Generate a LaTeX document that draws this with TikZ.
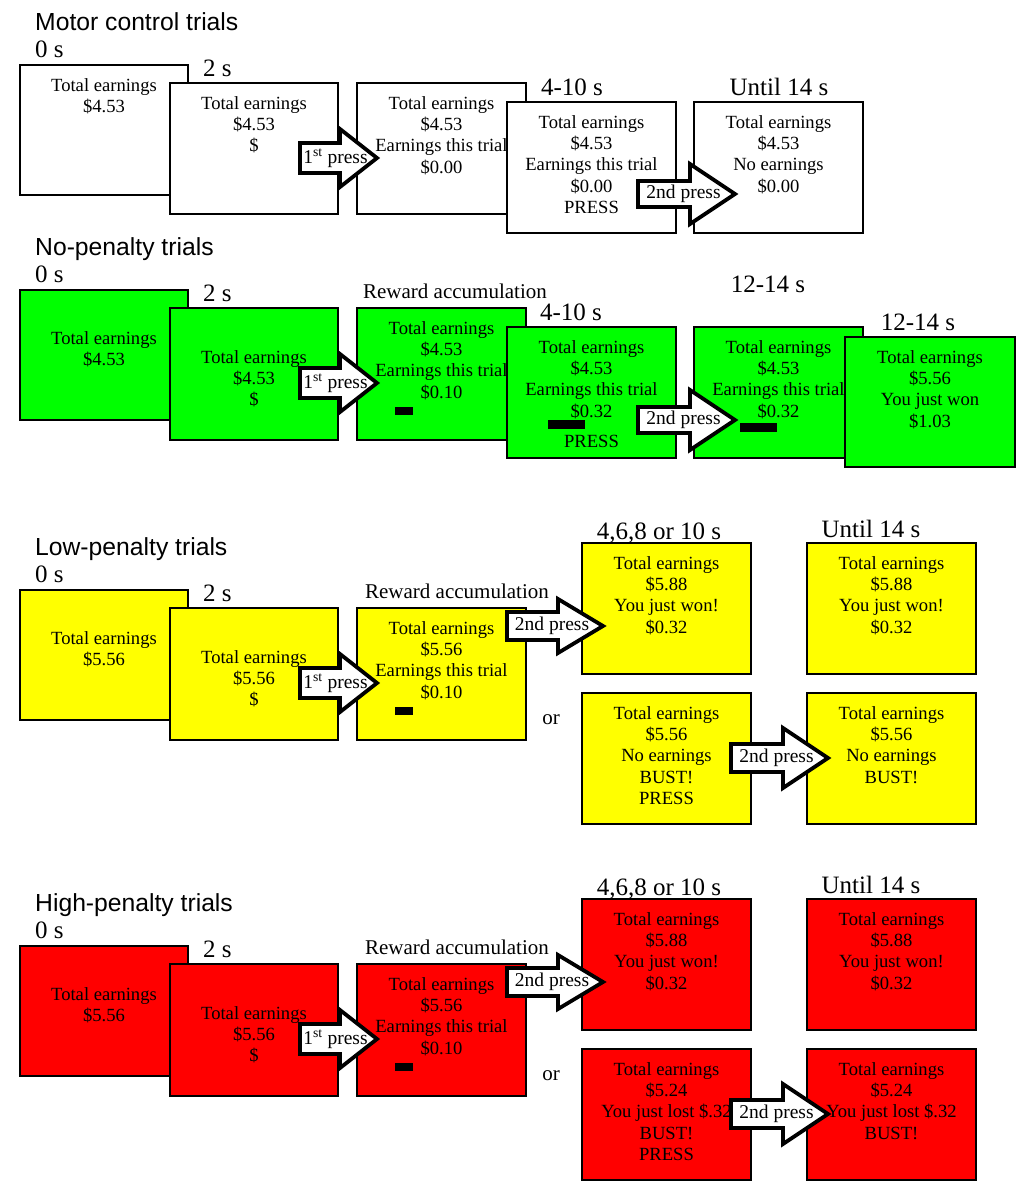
\documentclass[tikz,border=0pt]{standalone}
\usepackage{fontspec}
\setmainfont{Liberation Serif}
\newfontfamily\ttlfont{Liberation Sans}
\definecolor{scrGreen}{RGB}{0,255,0}
\definecolor{scrYellow}{RGB}{255,255,0}
\definecolor{scrRed}{RGB}{255,0,0}
% screen box: name, x1, y1, x2, y2, fill, baseline offset of first line, text
\newcommand\scrbox[8]{%
  \path[scr, fill=#6] (#2,#3) rectangle (#4,#5);
  \coordinate (#1) at ({(#2+#4)/2},{(#3+#5)/2});
  \node[btxt] (#1t) at ({(#2+#4)/2},{#3+#7-14.91}) {\strut #8};}
% block arrow: name, tail x, centre y, length, head length, body half, head half, label
\newcommand\blockarrow[8]{%
  \draw[arr] (#2,#3-#6) -- (#2+#4-#5,#3-#6) -- (#2+#4-#5,#3-#7) -- (#2+#4,#3)
    -- (#2+#4-#5,#3+#7) -- (#2+#4-#5,#3+#6) -- (#2,#3+#6) -- cycle;
  \node[alab] (#1) at (#2+#4/2-3,#3) {#8};}
\begin{document}
\begin{tikzpicture}[x=1pt,y=-1pt,
  scr/.style={draw=black, line width=1.5pt},
  btxt/.style={font=\fontsize{18.6}{21.3}\selectfont, align=center, anchor=north, inner sep=0pt},
  tlab/.style={font=\fontsize{25}{29}\selectfont, anchor=base, inner sep=0pt},
  ralab/.style={font=\fontsize{21}{25}\selectfont, anchor=base, inner sep=0pt},
  ttl/.style={font=\ttlfont\fontsize{24.7}{29}\selectfont, anchor=base west, inner sep=0pt},
  arr/.style={draw=black, fill=white, line width=3.8pt, line join=miter},
  alab/.style={font=\fontsize{19.5}{22}\selectfont, inner sep=0pt},
  bar/.style={fill=black}]
\useasboundingbox[fill=white] (0,0) rectangle (1026,1187);

% ---------------- Motor control trials ----------------
\node[ttl] (tA) at (35,30) {Motor control trials};
\node[tlab, anchor=base west] (A0s) at (35,57) {0 s};
\scrbox{A1}{20}{65}{188}{195}{white}{26}{Total earnings\\\$4.53}
\node[tlab, anchor=base west] (A2s) at (203,76) {2 s};
\scrbox{A2}{170}{83}{338}{214}{white}{26}{Total earnings\\\$4.53\\\$}
\scrbox{A3}{357}{83}{526}{214}{white}{26}{Total earnings\\\$4.53\\Earnings this trial\\\$0.00}
\node[tlab] (A4s) at (572,95) {4-10 s};
\scrbox{A4}{507}{102}{676}{233}{white}{26}{Total earnings\\\$4.53\\Earnings this trial\\\$0.00\\PRESS}
\node[tlab] (A5s) at (779,95) {Until 14 s};
\scrbox{A5}{694}{102}{863}{233}{white}{26}{Total earnings\\\$4.53\\No earnings\\\$0.00}
\blockarrow{aA1}{300}{158}{77}{37}{15}{29}{1\textsuperscript{st} press}
\blockarrow{aA2}{638}{194}{97}{45}{13}{30}{2nd press}

% ---------------- No-penalty trials ----------------
\node[ttl] (tB) at (35,255) {No-penalty trials};
\node[tlab, anchor=base west] (B0s) at (35,282) {0 s};
\scrbox{B1}{20}{290}{188}{420}{scrGreen}{54}{Total earnings\\\$4.53}
\node[tlab, anchor=base west] (B2s) at (203,301) {2 s};
\scrbox{B2}{170}{308}{338}{440}{scrGreen}{55}{Total earnings\\\$4.53\\\$}
\node[ralab] (B3s) at (455,298) {Reward accumulation};
\scrbox{B3}{357}{308}{526}{440}{scrGreen}{26}{Total earnings\\\$4.53\\Earnings this trial\\\$0.10}
\path[bar] (395,407) rectangle (413,415);
\node[tlab] (B4s) at (571,320) {4-10 s};
\scrbox{B4}{507}{327}{676}{458}{scrGreen}{26}{Total earnings\\\$4.53\\Earnings this trial\\\$0.32\\[8.7pt]PRESS}
\path[bar] (548,420) rectangle (585,429);
\node[tlab] (B5s) at (768,292) {12-14 s};
\scrbox{B5}{694}{327}{863}{458}{scrGreen}{26}{Total earnings\\\$4.53\\Earnings this trial\\\$0.32}
\path[bar] (740,423) rectangle (777,432);
\node[tlab] (B6s) at (918,330) {12-14 s};
\scrbox{B6}{845}{337}{1015}{467}{scrGreen}{26}{Total earnings\\\$5.56\\You just won\\\$1.03}
\blockarrow{aB1}{300}{383}{77}{37}{15}{29}{1\textsuperscript{st} press}
\blockarrow{aB2}{638}{420}{97}{45}{13}{30}{2nd press}

% ---------------- Low-penalty trials ----------------
\node[ttl] (tC) at (35,555) {Low-penalty trials};
\node[tlab, anchor=base west] (C0s) at (35,582) {0 s};
\scrbox{C1}{20}{590}{188}{720}{scrYellow}{54}{Total earnings\\\$5.56}
\node[tlab, anchor=base west] (C2s) at (203,601) {2 s};
\scrbox{C2}{170}{608}{338}{740}{scrYellow}{55}{Total earnings\\\$5.56\\\$}
\node[ralab] (C3s) at (457,598) {Reward accumulation};
\scrbox{C3}{357}{608}{526}{740}{scrYellow}{26}{Total earnings\\\$5.56\\Earnings this trial\\\$0.10}
\path[bar] (395,707) rectangle (413,715);
\node[tlab] (C4s) at (659,539) {4,6,8 or 10 s};
\scrbox{C4}{582}{543}{751}{674}{scrYellow}{26}{Total earnings\\\$5.88\\You just won!\\\$0.32}
\node[tlab] (C5s) at (871,537) {Until 14 s};
\scrbox{C5}{807}{543}{976}{674}{scrYellow}{26}{Total earnings\\\$5.88\\You just won!\\\$0.32}
\node[ralab] (Cor) at (551,724) {or};
\scrbox{C6}{582}{693}{751}{824}{scrYellow}{26}{Total earnings\\\$5.56\\No earnings\\BUST!\\PRESS}
\scrbox{C7}{807}{693}{976}{824}{scrYellow}{26}{Total earnings\\\$5.56\\No earnings\\BUST!}
\blockarrow{aC1}{300}{683}{77}{37}{15}{29}{1\textsuperscript{st} press}
\blockarrow{aC2}{507}{626}{96}{45}{14}{27}{2nd press}
\blockarrow{aC3}{731}{758}{97}{45}{14}{30}{2nd press}

% ---------------- High-penalty trials ----------------
\node[ttl] (tD) at (35,911) {High-penalty trials};
\node[tlab, anchor=base west] (D0s) at (35,938) {0 s};
\scrbox{D1}{20}{946}{188}{1076}{scrRed}{54}{Total earnings\\\$5.56}
\node[tlab, anchor=base west] (D2s) at (203,957) {2 s};
\scrbox{D2}{170}{964}{338}{1096}{scrRed}{55}{Total earnings\\\$5.56\\\$}
\node[ralab] (D3s) at (457,954) {Reward accumulation};
\scrbox{D3}{357}{964}{526}{1096}{scrRed}{26}{Total earnings\\\$5.56\\Earnings this trial\\\$0.10}
\path[bar] (395,1063) rectangle (413,1071);
\node[tlab] (D4s) at (659,895) {4,6,8 or 10 s};
\scrbox{D4}{582}{899}{751}{1030}{scrRed}{26}{Total earnings\\\$5.88\\You just won!\\\$0.32}
\node[tlab] (D5s) at (871,893) {Until 14 s};
\scrbox{D5}{807}{899}{976}{1030}{scrRed}{26}{Total earnings\\\$5.88\\You just won!\\\$0.32}
\node[ralab] (Dor) at (551,1080) {or};
\scrbox{D6}{582}{1049}{751}{1180}{scrRed}{26}{Total earnings\\\$5.24\\You just lost \$.32\\BUST!\\PRESS}
\scrbox{D7}{807}{1049}{976}{1180}{scrRed}{26}{Total earnings\\\$5.24\\You just lost \$.32\\BUST!}
\blockarrow{aD1}{300}{1039}{77}{37}{15}{29}{1\textsuperscript{st} press}
\blockarrow{aD2}{507}{982}{96}{45}{14}{27}{2nd press}
\blockarrow{aD3}{731}{1114}{97}{45}{14}{30}{2nd press}
\end{tikzpicture}
\end{document}
